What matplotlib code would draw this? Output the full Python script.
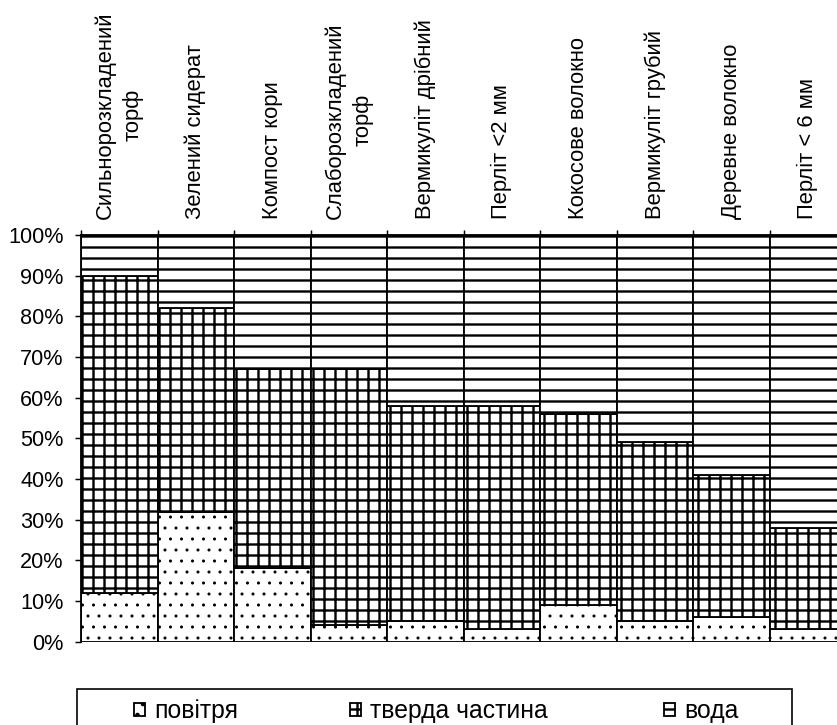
import numpy as np
import matplotlib
matplotlib.use('Agg')
import matplotlib.pyplot as plt
from matplotlib.patches import Rectangle
from matplotlib.ticker import FixedLocator, PercentFormatter

categories = ['Сильнорозкладений\nторф', 'Зелений сидерат', 'Компост кори',
              'Слаборозкладений\nторф', 'Вермикуліт дрібний', 'Перліт <2 мм',
              'Кокосове волокно', 'Вермикуліт грубий', 'Деревне волокно',
              'Перліт < 6 мм']
air = [12, 32, 18, 4, 5, 3, 9, 5, 6, 3]
solid = [78, 50, 49, 63, 53, 55, 47, 44, 35, 25]
water = [10, 18, 33, 33, 42, 42, 44, 51, 59, 72]
series_names = ['повітря', 'тверда частина', 'вода']

plt.rcParams['font.family'] = ['Liberation Sans', 'DejaVu Sans']
plt.rcParams['hatch.linewidth'] = 1.3
plt.rcParams['hatch.color'] = 'black'

dpi = 132
W, H = 837, 725
fig = plt.figure(figsize=(W / dpi, H / dpi), dpi=dpi)
ax = fig.add_axes([81 / W, 1 - 641.7 / H, 1 - 81 / W, (641.7 - 235) / H])

x = np.arange(len(categories))
air = np.array(air)
solid = np.array(solid)
water = np.array(water)

b1 = ax.bar(x, air, width=1.0, color='white', edgecolor='black', linewidth=1.0,
            hatch='..', label=series_names[0])
b2 = ax.bar(x, solid, width=1.0, bottom=air, color='white', edgecolor='black',
            linewidth=1.0, hatch='++', label=series_names[1])
b3 = ax.bar(x, water, width=1.0, bottom=air + solid, color='white',
            edgecolor='black', linewidth=1.0, hatch='--', label=series_names[2])

# finer dots for the air segments
for p in b1:
    if hasattr(p, 'set_hatch_linewidth'):
        p.set_hatch_linewidth(0.45)

ax.set_xlim(-0.5, 9.5 - 9 / 76.5)
ax.set_ylim(0, 100)
ax.set_yticks(np.arange(0, 101, 10))
ax.yaxis.set_major_formatter(PercentFormatter(decimals=0))
ax.tick_params(axis='y', direction='out', length=3.5, width=0.8, labelsize=11.8, pad=6)

ax.xaxis.tick_top()
ax.set_xticks(x)
ax.set_xticklabels(categories, rotation=90, fontsize=12, ha='center', va='bottom',
                   multialignment='center', linespacing=1.45)
ax.xaxis.set_minor_locator(FixedLocator(np.arange(-0.5, 9, 1.0)))
ax.tick_params(axis='x', which='major', length=0, pad=9)
ax.tick_params(axis='x', which='minor', top=True, bottom=False, length=2.5, width=0.8)

for side in ['right', 'bottom']:
    ax.spines[side].set_visible(False)
ax.spines['top'].set_linewidth(1.0)
ax.spines['left'].set_linewidth(1.0)

# legend box (runs past the bottom edge, as in the source)
fig.add_artist(Rectangle((77 / W, -10 / H), 715 / W, (H - 689 + 10) / H,
                         transform=fig.transFigure, facecolor='none',
                         edgecolor='black', linewidth=0.9, clip_on=False))
leg_x = [134, 350, 664]
for handle, lx in zip([b1, b2, b3], leg_x):
    lg = fig.legend(handles=[handle], loc='center left',
                    bbox_to_anchor=(lx / W, 1 - 711 / H), frameon=False,
                    fontsize=13.5, handlelength=0.45, handleheight=0.45,
                    handletextpad=0.35, borderpad=0, borderaxespad=0)

fig.savefig('out.png', dpi=dpi)
